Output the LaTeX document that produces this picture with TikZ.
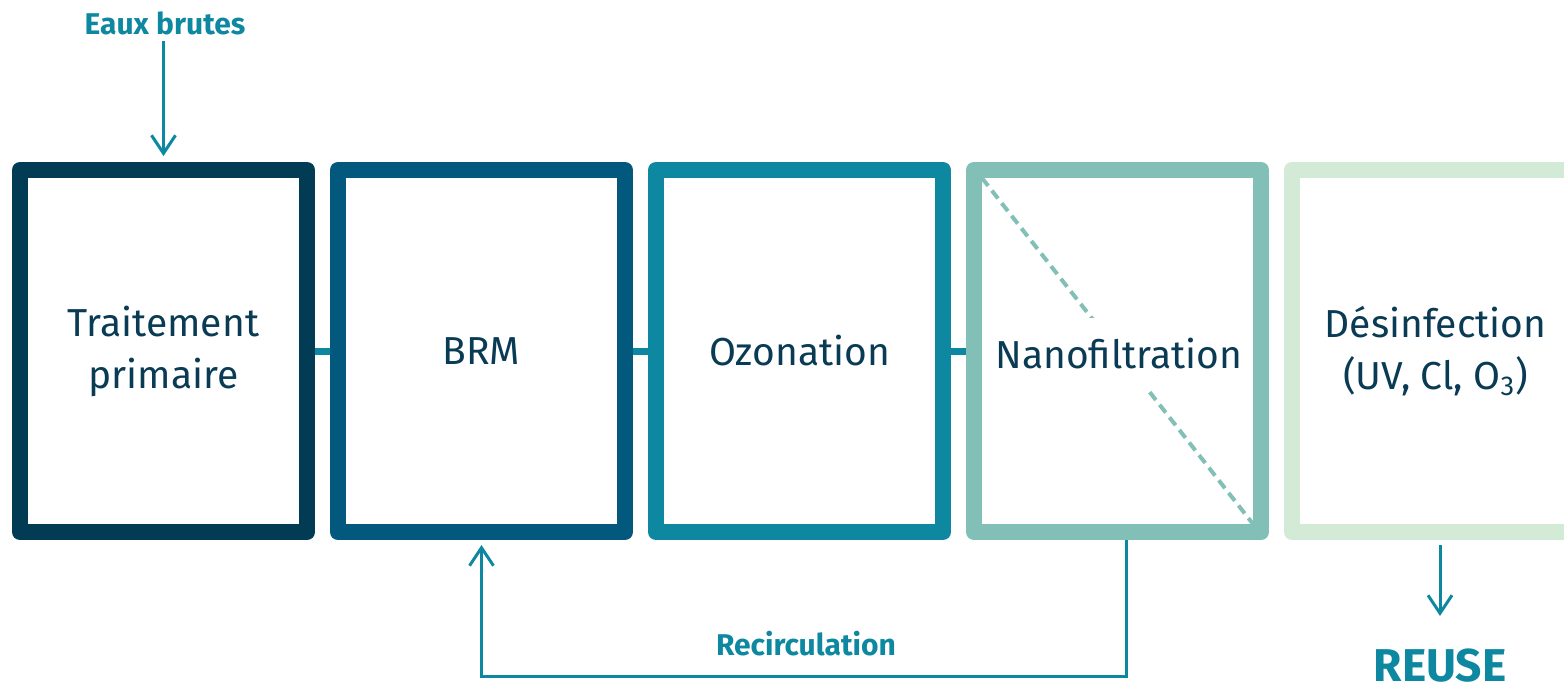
\documentclass[tikz,border=0pt]{standalone}
\usepackage{fontspec}
\setmainfont{Fira Sans}
\usetikzlibrary{arrows.meta}

\definecolor{stepA}{HTML}{023B54}
\definecolor{stepB}{HTML}{03587E}
\definecolor{stepC}{HTML}{0E88A1}
\definecolor{stepD}{HTML}{82BFB6}
\definecolor{stepE}{HTML}{D3EAD6}
\definecolor{ink}{HTML}{0A3B55}
\definecolor{flowcol}{HTML}{0E88A1}

\begin{document}
\begin{tikzpicture}[x=0.5pt, y=-0.5pt,
		stage/.style={draw, line width=8pt, line join=round, outer sep=4pt, inner sep=0pt,
			minimum width=143.5pt, minimum height=181pt, align=center, text=ink,
			font=\fontsize{19.5}{26}\selectfont},
		flow/.style={draw=flowcol, line width=1.5pt, -{Straight Barb[length=9pt,width=12pt]}},
		link/.style={draw=flowcol, line width=3.5pt},
		tag/.style={text=flowcol, font=\bfseries\fontsize{15}{18}\selectfont, inner sep=2pt}]
			%%%%% START %%%%%
			
			\useasboundingbox (0, 0) rectangle (1564, 693);
			\clip (0, 0) rectangle (1564, 693);
			
			% process line
			\node[stage, draw=stepA] (b1) at (163.5, 351) {Traitement\\primaire};
			\node[stage, draw=stepB] (b2) at (481.5, 351) {BRM};
			\node[stage, draw=stepC] (b3) at (799.5, 351) {Ozonation};
			\node[stage, draw=stepD] (b4) at (1117.5, 351) {};
			\node[stage, draw=stepE] (b5) at (1435.5, 351) {Désinfection\\(UV, Cl, O\textsubscript{3})};
			
			\draw[link] (b1.east) -- (b2.west);
			\draw[link] (b2.east) -- (b3.west);
			\draw[link] (b3.east) -- (b4.west);
			
			% membrane
			\draw[stepD, line width=2pt, dash pattern=on 5pt off 3pt]
				([shift={(8pt,-8pt)}]b4.north west) -- ([shift={(-8pt,8pt)}]b4.south east);
			\node[fill=white, inner xsep=0pt, minimum height=36pt, text=ink,
				font=\fontsize{19.5}{26}\selectfont] (nf) at (1119, 354) {Nanofiltration};
			
			% in and out
			\node[tag] (raw) at (165, 23) {Eaux brutes};
			\draw[flow, shorten <=1pt, shorten >=3pt] (raw.south -| b1) -- (b1.north);
			
			\node[tag, anchor=base, inner sep=0pt, font=\bfseries\fontsize{23}{26}\selectfont] (reuse) at (1440, 681) {REUSE};
			\draw[flow, shorten <=2.5pt, shorten >=16pt] (b5.south -| reuse) -- (reuse.north);
			
			% loop back to the bioreactor
			\node[tag] (rec) at (806, 644) {Recirculation};
			\draw[flow, shorten >=2.5pt] ([xshift=4.25pt]b4.south) -- ++(0, 136) -| (b2.south);
			
			%%%%% END %%%%%
		\end{tikzpicture}
\end{document}
